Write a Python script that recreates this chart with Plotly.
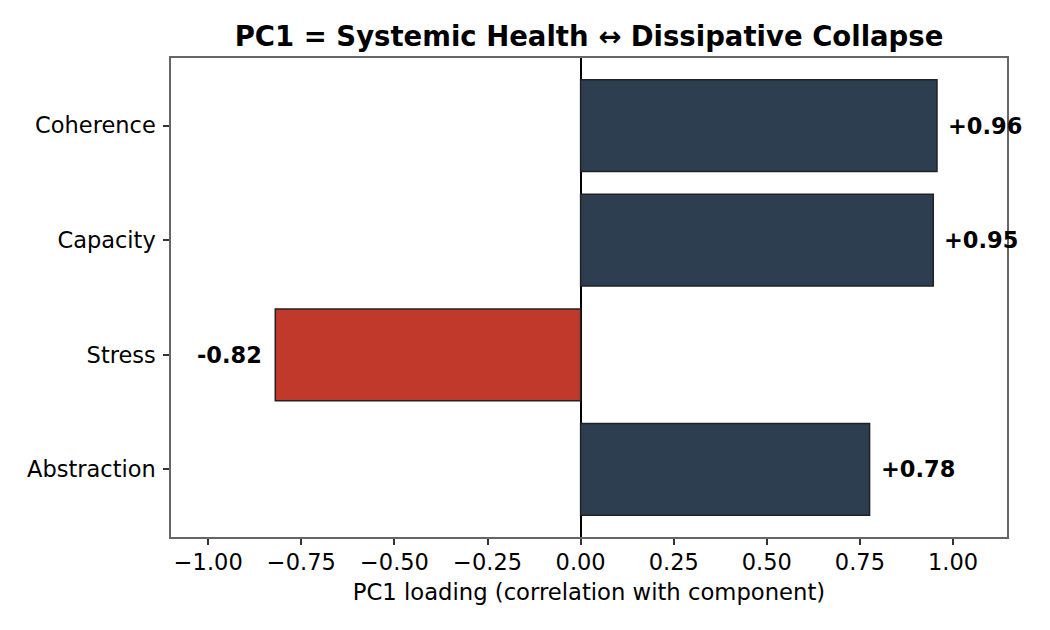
import plotly.graph_objects as go

categories = ["Abstraction", "Stress", "Capacity", "Coherence"]
loadings = [0.776, -0.82, 0.947, 0.957]
tick_vals = [-1.0, -0.75, -0.5, -0.25, 0.0, 0.25, 0.5, 0.75, 1.0]
tick_text = ["−1.00", "−0.75", "−0.50", "−0.25", "0.00", "0.25", "0.50", "0.75", "1.00"]
labels = ["%+.2f" % v for v in loadings]

NAVY = "#2C3E50"
RED = "#C0392B"
colors = [NAVY if v >= 0 else RED for v in loadings]

FONT = "DejaVu Sans"
FS = 22.5

fig = go.Figure()
fig.add_trace(go.Bar(
    x=loadings, y=categories, orientation="h",
    width=0.8,
    marker=dict(color=colors, line=dict(color="#222222", width=1.5)),
    hoverinfo="skip",
))

for c, v, t in zip(categories, loadings, labels):
    fig.add_annotation(
        x=v, y=c, text="<b>%s</b>" % t, showarrow=False,
        xanchor="left" if v >= 0 else "right",
        xshift=9 if v >= 0 else -11,
        font=dict(family=FONT, size=FS, color="black"),
    )

fig.update_layout(
    width=1050, height=630,
    margin=dict(l=171, r=43, t=58, b=93),
    paper_bgcolor="white", plot_bgcolor="white",
    font=dict(family=FONT, size=FS, color="black"),
    showlegend=False,
    title=dict(
        text="<b>PC1 = Systemic Health ↔ Dissipative Collapse</b>",
        x=0.5, xref="paper", xanchor="center",
        y=1, yref="paper", yanchor="bottom",
        pad=dict(b=12),
        font=dict(family=FONT, size=27.5, color="black"),
    ),
    xaxis=dict(
        range=[-1.1, 1.145],
        tickmode="array", tickvals=tick_vals, ticktext=tick_text,
        ticks="outside", ticklen=6, tickwidth=1.5, tickcolor="#333333",
        ticklabelstandoff=-2,
        showgrid=False,
        zeroline=True, zerolinecolor="black", zerolinewidth=1.5,
        showline=True, linecolor="#666666", linewidth=1.5, mirror=True,
        title=dict(text="PC1 loading (correlation with component)", standoff=10,
                   font=dict(family=FONT, size=22.7)),
        tickfont=dict(family=FONT, size=FS),
    ),
    yaxis=dict(
        type="category",
        categoryorder="array", categoryarray=categories,
        range=[-0.59, 3.59],
        ticks="outside", ticklen=6, tickwidth=1.5, tickcolor="#333333",
        ticklabelstandoff=3,
        showgrid=False, zeroline=False,
        showline=True, linecolor="#666666", linewidth=1.5, mirror=True,
        tickfont=dict(family=FONT, size=FS),
    ),
)

fig.write_html("out.html")
